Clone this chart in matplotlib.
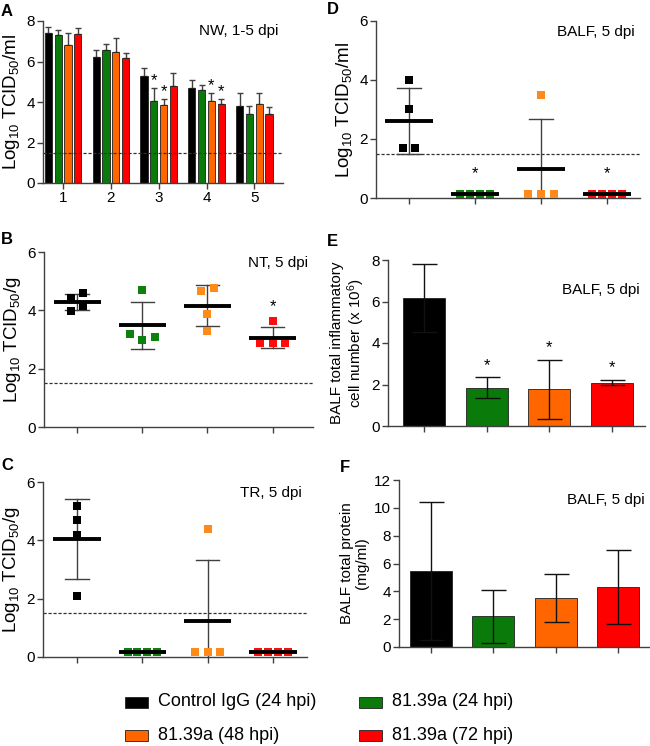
import numpy as np
import matplotlib
matplotlib.use("Agg")
import matplotlib.pyplot as plt
from matplotlib.patches import Rectangle

plt.rcParams['font.family'] = ['Liberation Sans', 'DejaVu Sans']
plt.rcParams['mathtext.fontset'] = 'custom'
plt.rcParams['mathtext.rm'] = 'Liberation Sans'
plt.rcParams['mathtext.it'] = 'Liberation Sans'

# ---- data ----
groups = ["Control IgG (24 hpi)", "81.39a (24 hpi)", "81.39a (48 hpi)", "81.39a (72 hpi)"]
bar_colors = ["#000000", "#0a7a0a", "#ff6600", "#ff0000"]
dot_colors = ["#000000", "#0d800d", "#ff8a1a", "#ff0d0d"]

# A: NW titers per day, mean and upper error
days = [1, 2, 3, 4, 5]
nw_mean = [[7.42, 6.22, 5.28, 4.71, 3.79],
           [7.29, 6.58, 4.03, 4.61, 3.42],
           [6.83, 6.47, 3.87, 4.03, 3.88],
           [7.37, 6.17, 4.77, 3.92, 3.42]]
nw_upper = [[7.70, 6.55, 5.68, 5.10, 4.46],
            [7.57, 6.88, 4.71, 4.82, 3.79],
            [7.40, 7.16, 4.16, 4.44, 4.46],
            [7.65, 6.44, 5.45, 4.13, 3.75]]
nw_star = [(3, 1), (3, 2), (4, 2), (4, 3)]

# B: NT titers, individual animals
nt_vals = [[4.44, 4.60, 3.97, 4.14],
           [4.69, 3.18, 3.00, 3.09],
           [4.66, 4.78, 3.89, 3.29],
           [3.62, 2.88, 2.88, 2.88]]
nt_star = [3]

# C: TR titers
tr_vals = [[5.19, 4.69, 4.19, 2.10],
           [0.17, 0.17, 0.17, 0.17],
           [4.39, 0.17, 0.17, 0.17],
           [0.17, 0.17, 0.17, 0.17]]

# D: BALF titers
balf_vals = [[4.01, 3.02, 1.71, 1.71],
             [0.15, 0.15, 0.15, 0.15],
             [3.50, 0.15, 0.15, 0.15],
             [0.15, 0.15, 0.15, 0.15]]
balf_star = [1, 3]

# E: BALF cell numbers (x 10^6)
cell_mean = [6.18, 1.85, 1.77, 2.09]
cell_sd = [1.64, 0.49, 1.41, 0.13]
cell_star = [1, 2, 3]

# F: BALF total protein (mg/ml)
prot_mean = [5.45, 2.20, 3.53, 4.32]
prot_sd = [4.94, 1.88, 1.70, 2.66]

LOD = 1.5
W, H = 650, 746
fig = plt.figure(figsize=(6.5, 7.46), dpi=100)
axc = "#404040"
TICK = 11
YLAB = 13.5


def make_ax(l, r, t, b):
    ax = fig.add_axes([l / W, 1 - b / H, (r - l) / W, (b - t) / H])
    for s in ["top", "right"]:
        ax.spines[s].set_visible(False)
    for s in ["left", "bottom"]:
        ax.spines[s].set_color(axc)
        ax.spines[s].set_linewidth(1.0)
    ax.tick_params(colors=axc, labelcolor="black", labelsize=TICK, length=4, width=1, pad=2)
    return ax


def letter(x, y, s):
    fig.text(x / W, 1 - y / H, s, fontsize=12, fontweight="bold", va="center", ha="left")


def note(ax, s, y=0.94):
    ax.text(0.98, y, s, transform=ax.transAxes, ha="right", va="center", fontsize=11)


def swarm(vals):
    # spread animals with near-equal values sideways
    vals = np.asarray(vals)
    off = np.zeros(len(vals))
    used = np.zeros(len(vals), bool)
    for i in range(len(vals)):
        if used[i]:
            continue
        idx = [j for j in range(len(vals)) if not used[j] and abs(vals[j] - vals[i]) < 0.2]
        n = len(idx)
        step = 0.19 if n <= 3 else 0.15
        for k, j in enumerate(idx):
            off[j] = (k - (n - 1) / 2) * step
            used[j] = True
    return off


def dot_panel(ax, data, stars=(), ylab="", star_gap=0.5):
    for i, v in enumerate(data):
        v = np.asarray(v)
        m, sd = v.mean(), v.std(ddof=1)
        ax.plot(i + swarm(v), v, "s", color=dot_colors[i], ms=5.4, mew=0, zorder=3, clip_on=False)
        ax.plot([i - 0.36, i + 0.36], [m, m], color="black", lw=2.8, zorder=4, solid_capstyle="butt")
        if sd > 0.02:
            ax.plot([i, i], [m - sd, m + sd], color=axc, lw=1, zorder=2)
            for y in (m - sd, m + sd):
                ax.plot([i - 0.18, i + 0.18], [y, y], color=axc, lw=1, zorder=2)
        if i in stars:
            top = max(v.max(), m + sd) if sd > 0.02 else v.max()
            ax.text(i, top + star_gap, "*", ha="center", va="center", fontsize=12)
    ax.axhline(LOD, color="#303030", lw=0.9, ls=(0, (2.5, 1.5)), zorder=1)
    ax.set_xticks(range(4))
    ax.set_xticklabels([])
    ax.set_ylim(0, 6)
    ax.set_yticks([0, 2, 4, 6])
    ax.set_ylabel(ylab, fontsize=YLAB, labelpad=3)


# ---- A ----
ax = make_ax(43, 283, 21, 183)
bw, gap = 0.15, 0.205
for g in range(4):
    xs = np.array(days) + (g - 1.5) * gap
    m = np.array(nw_mean[g])
    up = np.array(nw_upper[g]) - m
    ax.bar(xs, m, width=bw, color=bar_colors[g], edgecolor="#202020", lw=0.6, zorder=2)
    ax.errorbar(xs, m, yerr=[np.zeros(5), up], fmt="none", ecolor=axc, elinewidth=1,
                capsize=2.5, capthick=1, zorder=1)
for d, g in nw_star:
    ax.text(d + (g - 1.5) * gap, nw_upper[g][d - 1] + 0.36, "*", ha="center", va="center", fontsize=12)
ax.axhline(LOD, color="#303030", lw=0.9, ls=(0, (2.5, 1.5)), zorder=3)
ax.set_xlim(0.58, 5.6)
ax.set_xticks(days)
ax.set_ylim(0, 8)
ax.set_yticks([0, 2, 4, 6, 8])
ax.set_ylabel("Log$_{10}$ TCID$_{50}$/ml", fontsize=YLAB, labelpad=3)
note(ax, "NW, 1-5 dpi")
letter(1, 11, "A")

# ---- B ----
ax = make_ax(44, 313, 252, 427)
dot_panel(ax, nt_vals, nt_star, "Log$_{10}$ TCID$_{50}$/g", star_gap=0.5)
ax.set_xlim(-0.51, 3.62)
note(ax, "NT, 5 dpi")
letter(1, 240, "B")

# ---- C ----
ax = make_ax(43, 307, 482, 657)
dot_panel(ax, tr_vals, (), "Log$_{10}$ TCID$_{50}$/g")
ax.set_xlim(-0.52, 3.52)
note(ax, "TR, 5 dpi")
letter(1, 465, "C")

# ---- D ----
ax = make_ax(376, 640, 21, 198)
dot_panel(ax, balf_vals, balf_star, "Log$_{10}$ TCID$_{50}$/ml", star_gap=0.67)
ax.set_xlim(-0.5, 3.5)
note(ax, "BALF, 5 dpi")
letter(327, 10, "D")

# ---- E ----
ax = make_ax(388, 645, 260, 426)
x4 = np.arange(4)
ax.bar(x4, cell_mean, width=0.67, color=bar_colors, edgecolor="#202020", lw=0.6, zorder=1)
ax.errorbar(x4, cell_mean, yerr=cell_sd, fmt="none", ecolor="#111111", elinewidth=1,
            capsize=9, capthick=1, zorder=2)
for i in cell_star:
    ax.text(i, cell_mean[i] + cell_sd[i] + 0.58, "*", ha="center", va="center", fontsize=12)
ax.set_xlim(-0.58, 3.53)
ax.set_xticks(x4)
ax.set_xticklabels([])
ax.set_ylim(0, 8)
ax.set_yticks([0, 2, 4, 6, 8])
ax.set_ylabel("BALF total inflammatory\ncell number (x 10$^6$)", fontsize=11, labelpad=3,
              linespacing=1.1)
note(ax, "BALF, 5 dpi", y=0.82)
letter(327, 241, "E")

# ---- F ----
ax = make_ax(399, 650, 480, 647)
ax.bar(x4, prot_mean, width=0.67, color=bar_colors, edgecolor="#202020", lw=0.6, zorder=1)
ax.errorbar(x4, prot_mean, yerr=prot_sd, fmt="none", ecolor="#111111", elinewidth=1,
            capsize=9, capthick=1, zorder=2)
ax.set_xlim(-0.51, 3.51)
ax.set_xticks(x4)
ax.set_xticklabels([])
ax.set_ylim(0, 12)
ax.set_yticks([0, 2, 4, 6, 8, 10, 12])
ax.set_ylabel("BALF total protein\n(mg/ml)", fontsize=11, labelpad=3, linespacing=1.1)
note(ax, "BALF, 5 dpi", y=0.88)
letter(340, 468, "F")

# ---- legend ----
leg_pos = [(125, 702), (359, 702), (125, 735), (359, 735)]
for (x, y), lab, c in zip(leg_pos, groups, bar_colors):
    fig.patches.append(Rectangle((x / W, 1 - (y + 5.5) / H), 23 / W, 11 / H,
                                 transform=fig.transFigure, facecolor=c,
                                 edgecolor="#202020", lw=0.6))
    fig.text((x + 33) / W, 1 - y / H, lab, fontsize=13, va="center", ha="left")

fig.savefig("out.png", dpi=100)
